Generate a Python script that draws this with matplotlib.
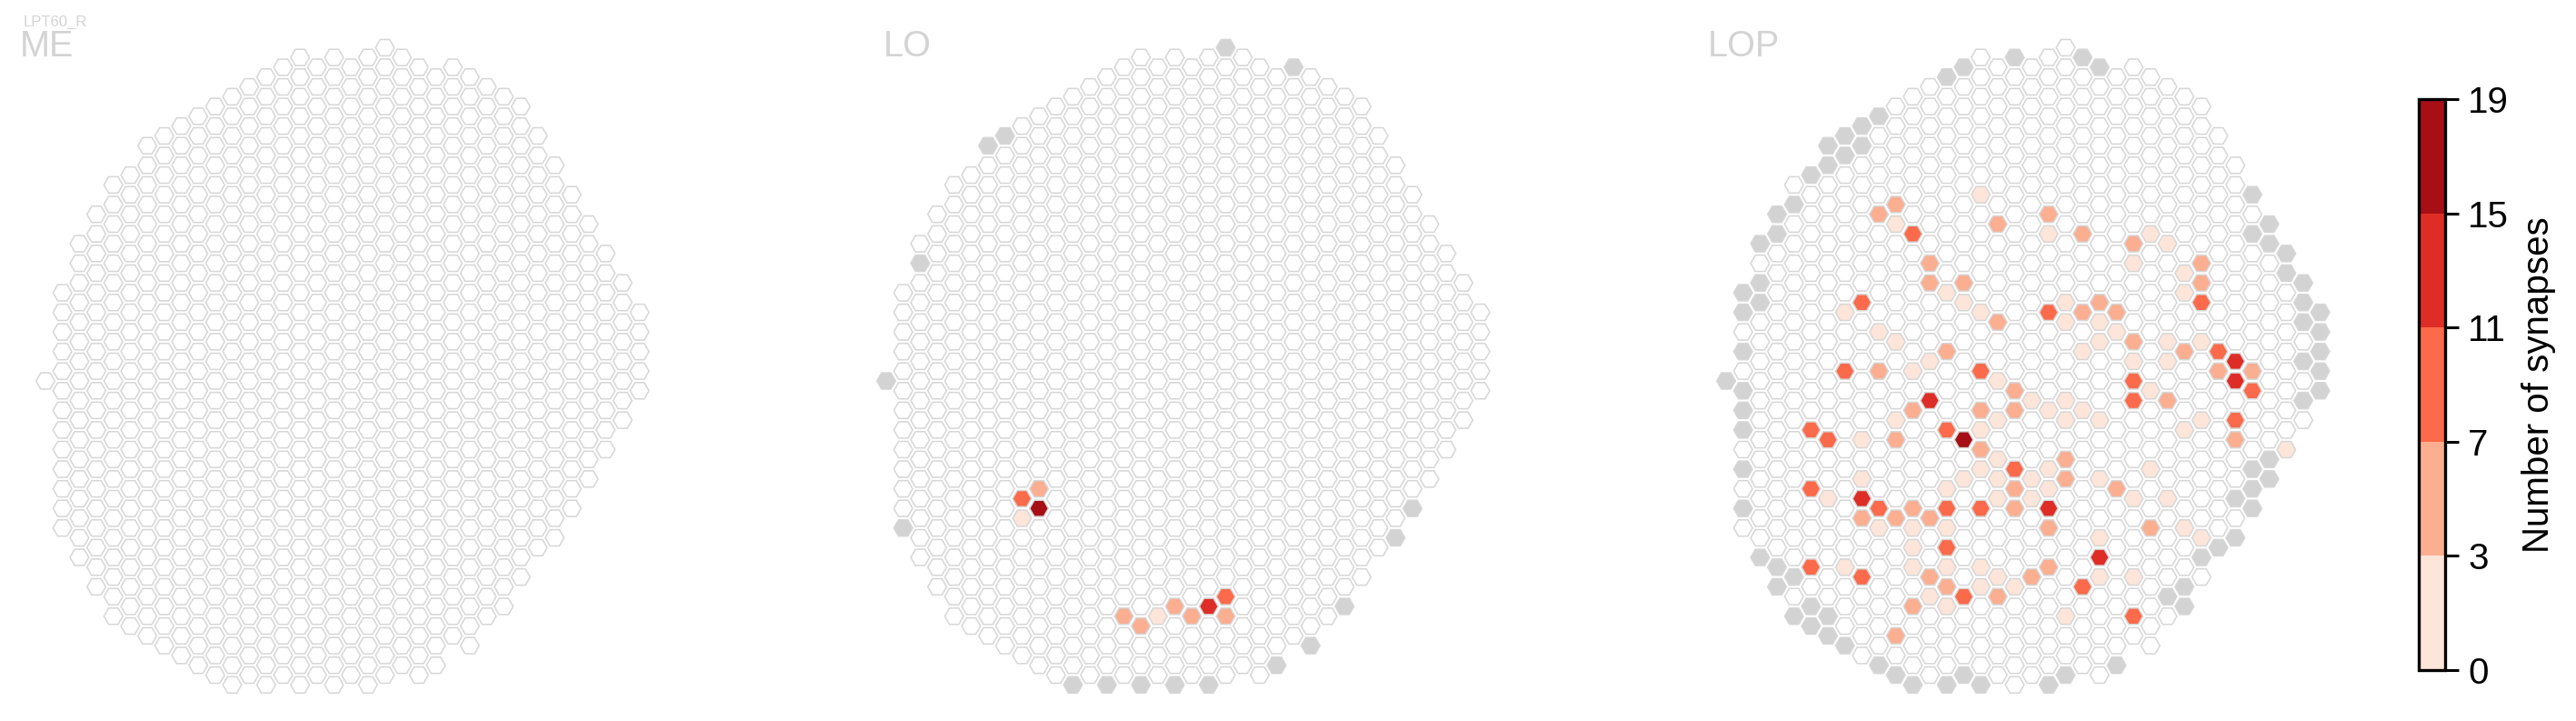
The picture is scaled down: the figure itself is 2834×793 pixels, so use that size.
import numpy as np
import matplotlib
matplotlib.use("Agg")
import matplotlib.pyplot as plt
from matplotlib.collections import PolyCollection
from matplotlib.colors import ListedColormap, BoundaryNorm
from matplotlib.cm import ScalarMappable

plt.rcParams['font.family'] = ['Liberation Sans', 'DejaVu Sans']

# hex grid: for each column, first and last half-row index (step 2)
col_top = [0, -9, -14, -17, -20, -21, -24, -25, -26, -27, -28, -29, -30, -31, -32, -33, -32, -33,
           -32, -33, -34, -33, -32, -31, -32, -31, -30, -29, -28, -25, -22, -19, -16, -13, -10, -7]
col_bottom = [0, 15, 18, 21, 24, 25, 26, 27, 28, 29, 30, 31, 30, 31, 30, 31, 30, 31,
              30, 31, 30, 29, 30, 29, 26, 27, 24, 23, 20, 17, 16, 13, 10, 7, 4, 1]

# columns with no data in LO / LOP (grey)
lo_missing = [(20, -34), (24, -32), (7, -25), (6, -24), (2, -12), (0, 0), (1, 15), (31, 13),
              (30, 16), (27, 23), (25, 27), (23, 29), (11, 31), (13, 31), (15, 31), (17, 31), (19, 31)]
lop_missing = [(17, -33), (21, -33), (22, -32), (14, -32), (13, -31), (9, -27), (8, -26), (7, -25),
               (6, -24), (8, -24), (7, -23), (6, -22), (5, -21), (4, -18), (3, -17), (3, -15),
               (2, -14), (2, -10), (1, -9), (2, -8), (1, -7), (1, -3), (0, 0), (1, 1), (1, 3),
               (1, 5), (1, 9), (1, 13), (2, 18), (3, 19), (3, 21), (4, 20), (4, 24), (5, 23),
               (6, 24), (5, 25), (6, 26), (7, 27), (9, 29), (10, 30), (11, 31), (13, 31), (14, 30),
               (15, 31), (19, 31), (20, 30), (23, 29), (31, -19), (32, -16), (31, -15), (32, -14),
               (33, -13), (33, -11), (34, -10), (34, -8), (35, -7), (34, -6), (35, -5), (35, -3),
               (34, -2), (35, -1), (35, 1), (34, 2), (32, 8), (31, 9), (32, 10), (31, 11), (30, 12),
               (31, 13), (30, 16), (29, 17), (28, 18), (27, 21), (26, 22), (27, 23)]

# synapse counts per column (c, h, count)
lo_counts = [(9, 11, 5), (8, 12, 9), (9, 13, 17), (8, 14, 2), (14, 24, 5), (15, 25, 5),
             (16, 24, 2), (17, 23, 5), (18, 24, 5), (19, 23, 13), (20, 22, 9), (20, 24, 5)]

lop_low = [(15, -19), (10, -16), (19, -15), (25, -15), (26, -14), (24, -12), (27, -11), (27, -9),
           (13, -9), (14, -8), (15, -7), (7, -7), (9, -5), (10, -4), (20, -8), (20, -6), (22, -6),
           (23, -5), (22, -4), (21, -3), (26, -4), (28, -4), (24, -2), (26, -2), (25, 1), (12, -2),
           (11, -1), (16, 0), (18, 2), (20, 2), (10, 4), (16, 4), (19, 3), (20, 4), (21, 3),
           (22, 4), (8, 6), (15, 5), (16, 8), (15, 9), (19, 9), (14, 10), (16, 10), (18, 10),
           (13, 11), (19, 11), (16, 12), (18, 12), (22, 10), (24, 12), (25, 9), (26, 12), (27, 5),
           (28, 4), (33, 7), (8, 10), (6, 12), (9, 15), (11, 15), (13, 15), (11, 17), (22, 16),
           (27, 15), (28, 16), (7, 19), (11, 19), (13, 19), (12, 22), (15, 21), (15, 19), (16, 20),
           (17, 21), (22, 20), (24, 20), (13, 23), (20, 24)]
lop_mid = [(10, -18), (9, -17), (16, -16), (19, -17), (21, -15), (24, -14), (28, -12), (28, -10),
           (12, -12), (12, -10), (14, -10), (16, -6), (21, -7), (22, -8), (23, -7), (24, -4),
           (27, -3), (29, -1), (31, -1), (26, 2), (13, -3), (9, -1), (17, 1), (11, 3), (15, 3),
           (17, 3), (10, 6), (15, 7), (20, 8), (20, 10), (17, 11), (23, 11), (30, 6), (8, 14),
           (10, 14), (11, 13), (12, 14), (17, 13), (19, 15), (25, 15), (12, 20), (13, 21), (16, 22),
           (18, 20), (19, 19), (11, 23), (10, 26)]
lop_high = [(11, -15), (28, -8), (8, -8), (19, -7), (29, -3), (31, 1), (24, 0), (24, 2), (7, -1),
            (15, -1), (5, 5), (6, 6), (13, 5), (17, 9), (30, 4), (5, 11), (9, 13), (13, 13),
            (15, 13), (13, 17), (5, 19), (8, 20), (14, 22), (21, 21), (24, 24)]
lop_top = [(12, 2), (30, -2), (30, 0), (8, 12), (19, 13), (22, 18)]
lop_max = [(14, 6)]

lop_counts = ([(c, h, 2) for c, h in lop_low] + [(c, h, 5) for c, h in lop_mid] +
              [(c, h, 9) for c, h in lop_high] + [(c, h, 13) for c, h in lop_top] +
              [(c, h, 17) for c, h in lop_max])

bounds = [0, 3, 7, 11, 15, 19]
cmap = ListedColormap(['#fee5d9', '#fcae91', '#fb6a4a', '#de2d26', '#a50f15'])
norm = BoundaryNorm(bounds, cmap.N)

W, H = 2834, 793
S = 12.45  # pixels per grid unit


def hexagon(x, y, r=0.83):
    a = np.deg2rad(np.arange(0, 360, 60))
    return np.column_stack([x + r * np.cos(a), y + r * np.sin(a)])


def draw_panel(left_px, missing=(), counts=()):
    ax = fig.add_axes([left_px / W, 0, 800 / W, 1])
    ax.set_xlim(-50 / S, 750 / S)
    ax.set_ylim(-374 / S, 419 / S)
    ax.axis('off')
    miss = set(missing)
    vals = {(c, h): v for c, h, v in counts}
    polys, faces = [], []
    for c in range(len(col_top)):
        for h in range(col_top[c], col_bottom[c] + 1, 2):
            polys.append(hexagon(1.5 * c, -h * np.sqrt(3) / 2))
            if (c, h) in miss:
                faces.append('#d3d3d3')
            elif (c, h) in vals:
                faces.append(cmap(norm(vals[(c, h)])))
            else:
                faces.append('white')
    pc = PolyCollection(polys, facecolors=faces, edgecolors='#d6d6d6', linewidths=1.1)
    ax.add_collection(pc)
    return ax


fig = plt.figure(figsize=(W / 100, H / 100), dpi=100)

draw_panel(0)
draw_panel(925, lo_missing, lo_counts)
draw_panel(1849, lop_missing, lop_counts)

grey = '#d3d3d3'
fig.text(26 / W, 1 - 29 / H, "LPT60_R", fontsize=12, color=grey, va='baseline')
fig.text(22 / W, 1 - 62 / H, "ME", fontsize=28.5, color=grey, va='baseline')
fig.text(972 / W, 1 - 62 / H, "LO", fontsize=28.5, color=grey, va='baseline')
fig.text(1879 / W, 1 - 62 / H, "LOP", fontsize=28.5, color=grey, va='baseline')

cax = fig.add_axes([2661 / W, (H - 737) / H, 29 / W, (737 - 109) / H])
cb = fig.colorbar(ScalarMappable(norm=norm, cmap=cmap), cax=cax, ticks=bounds)
cb.outline.set_linewidth(2.4)
cax.tick_params(length=11, width=2.2, labelsize=29, pad=7)
cb.set_label("Number of synapses", fontsize=29, labelpad=10)

fig.savefig("out.png", dpi=100)
